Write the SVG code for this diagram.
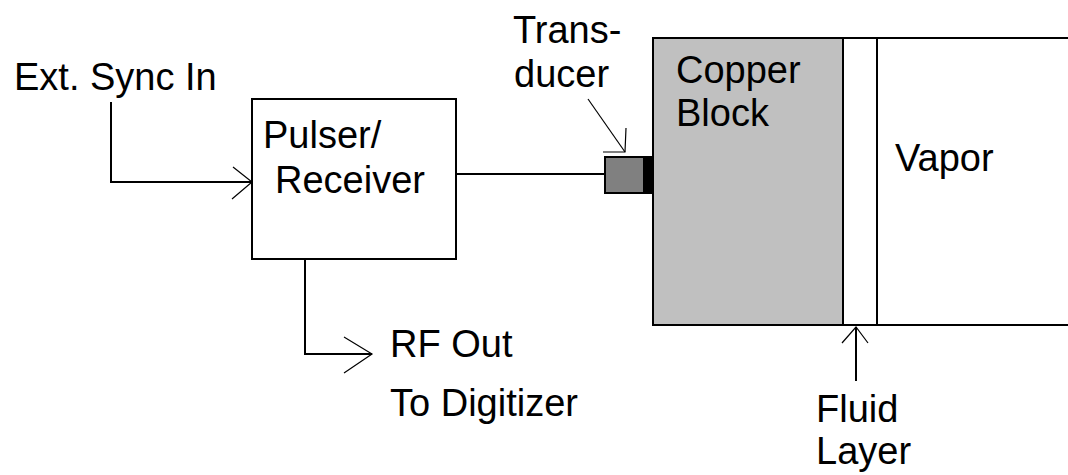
<svg xmlns="http://www.w3.org/2000/svg" width="1068" height="475" viewBox="0 0 1068 475">
<style>
text{font-family:"Liberation Sans",Arial,sans-serif;font-size:38px;fill:#000}
.box{stroke:#000;stroke-width:2;}
.ln{stroke:#000;stroke-width:2;fill:none}
.ah{stroke:#000;stroke-width:1.2;fill:none}
</style>
<rect width="1068" height="475" fill="#fff"/>
<g id="connectors">
<polyline class="ln" points="111,102 111,182 252,182"/>
<polyline class="ah" points="233,167 252,182 232,199"/>
<line class="ln" x1="456" y1="174" x2="605" y2="174"/>
<polyline class="ln" points="305,259 305,354 372,354"/>
<polyline class="ah" points="344,337 372,354 344,373"/>
<line class="ah" x1="588" y1="99" x2="625" y2="152"/>
<polyline class="ah" points="626,128 625,152 603,152"/>
<line class="ln" x1="856" y1="327" x2="856" y2="381"/>
<polyline class="ah" points="842,343 856,327 868,343"/>
</g>
<g id="ext-sync"><text x="14" y="90">Ext. Sync In</text></g>
<g id="pulser-receiver">
<rect class="box" x="252" y="99" width="204" height="160" fill="#fff"/>
<text x="263" y="148">Pulser/</text>
<text x="275" y="193">Receiver</text>
</g>
<g id="rf-out">
<text x="390" y="357">RF Out</text>
<text x="390" y="416">To Digitizer</text>
</g>
<g id="transducer">
<rect class="box" x="605" y="157" width="39" height="36" fill="#808080"/>
<rect x="644" y="156" width="9" height="38" fill="#000"/>
<text x="513" y="43">Trans-</text>
<text x="514" y="87">ducer</text>
</g>
<g id="copper-block">
<rect class="box" x="653" y="38" width="190" height="287" fill="#c0c0c0"/>
<text x="676" y="83">Copper</text>
<text x="676" y="126">Block</text>
</g>
<g id="fluid-layer">
<rect class="box" x="843" y="38" width="34" height="287" fill="#fff"/>
<text x="816" y="422">Fluid</text>
<text x="816" y="464">Layer</text>
</g>
<g id="vapor">
<polyline class="ln" points="877,38 1068,38"/>
<polyline class="ln" points="877,325 1068,325"/>
<text x="895" y="171">Vapor</text>
</g>
</svg>
